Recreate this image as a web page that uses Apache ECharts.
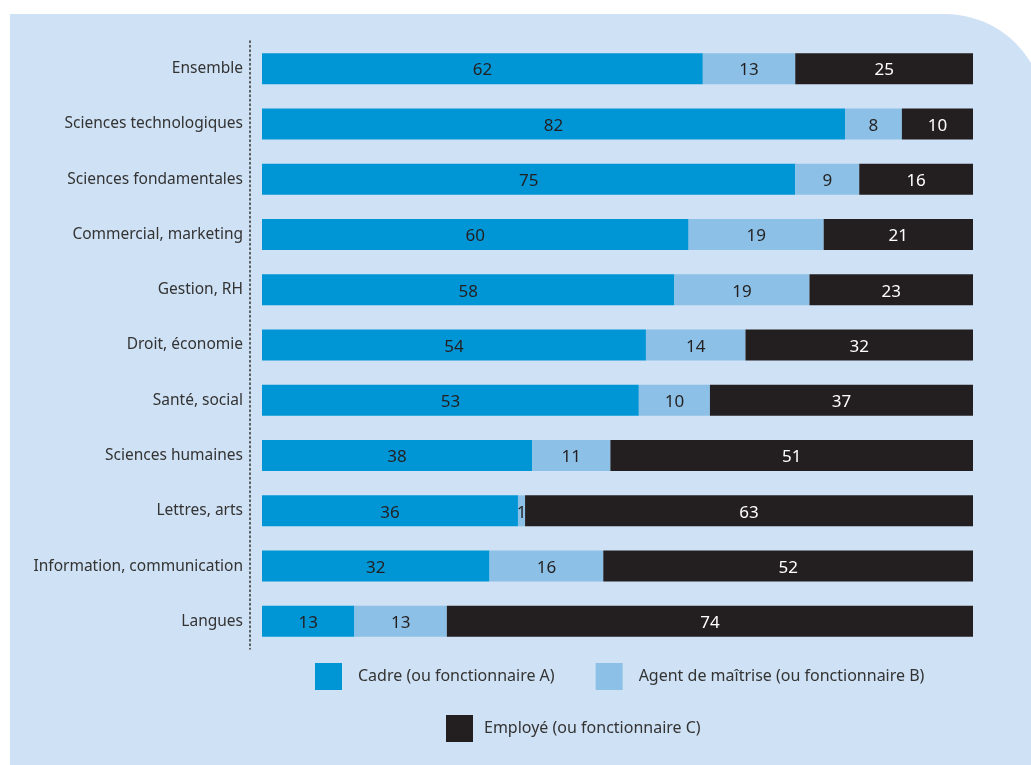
<!DOCTYPE html>
<html>
<head>
<meta charset="utf-8">
<script src="https://cdn.jsdelivr.net/npm/echarts@6/dist/echarts.min.js"></script>
<style>
  html, body { margin: 0; padding: 0; background: #ffffff; }
  #chart { width: 1031px; height: 765px; }
</style>
</head>
<body>
<div id="chart"></div>
<script>
  // catégories, de haut en bas
  var categories = ['Ensemble', 'Sciences technologiques', 'Sciences fondamentales', 'Commercial, marketing',
    'Gestion, RH', 'Droit, économie', 'Santé, social', 'Sciences humaines', 'Lettres, arts',
    'Information, communication', 'Langues'];
  var cadre = [62, 82, 75, 60, 58, 54, 53, 38, 36, 32, 13];
  var agent = [13, 8, 9, 19, 19, 14, 10, 11, 1, 16, 13];
  var employe = [25, 10, 16, 21, 23, 32, 37, 51, 63, 52, 74];
  var seriesNames = ['Cadre (ou fonctionnaire A)', 'Agent de maîtrise (ou fonctionnaire B)', 'Employé (ou fonctionnaire C)'];

  var font = 'Noto Sans';
  var chart = echarts.init(document.getElementById('chart'));

  function barSeries(name, data, color, labelColor) {
    return {
      name: name,
      type: 'bar',
      stack: 'total',
      data: data,
      barWidth: 31,
      itemStyle: { color: color },
      label: {
        show: true,
        position: 'inside',
        offset: [0, 2],
        color: labelColor,
        fontFamily: font,
        fontSize: 17
      }
    };
  }

  chart.setOption({
    animation: false,
    textStyle: { fontFamily: font },
    // panneau bleu clair avec coin arrondi en haut à droite
    graphic: [{
      type: 'rect',
      z: -10,
      silent: true,
      shape: { x: 10, y: 14, width: 1035, height: 800, r: [0, 100, 0, 0] },
      style: { fill: '#cfe1f4' }
    }],
    grid: {
      left: 262,
      right: 58,
      top: 41,
      bottom: 116
    },
    xAxis: {
      type: 'value',
      min: 0,
      max: 100,
      show: false
    },
    yAxis: {
      type: 'category',
      inverse: true,
      data: categories,
      offset: 12,
      axisLine: {
        onZero: false,
        lineStyle: { color: '#333333', width: 1.5, type: [1.5, 3] }
      },
      axisTick: { show: false },
      axisLabel: {
        margin: 7,
        color: '#333333',
        fontFamily: font,
        fontSize: 15.5
      }
    },
    legend: [{
      data: [seriesNames[0], seriesNames[1]],
      left: 315,
      top: 663,
      orient: 'horizontal',
      icon: 'rect',
      itemWidth: 27,
      itemHeight: 27,
      itemGap: 41,
      padding: 0,
      textStyle: { color: '#333333', fontFamily: font, fontSize: 16, padding: [0, 0, 0, 11] }
    }, {
      data: [seriesNames[2]],
      left: 446,
      top: 715,
      icon: 'rect',
      itemWidth: 27,
      itemHeight: 27,
      padding: 0,
      textStyle: { color: '#333333', fontFamily: font, fontSize: 16, padding: [0, 0, 0, 6] }
    }],
    series: [
      barSeries(seriesNames[0], cadre, '#0096d6', '#231f20'),
      barSeries(seriesNames[1], agent, '#8cc0e6', '#231f20'),
      barSeries(seriesNames[2], employe, '#231f20', '#ffffff')
    ]
  });
</script>
</body>
</html>
